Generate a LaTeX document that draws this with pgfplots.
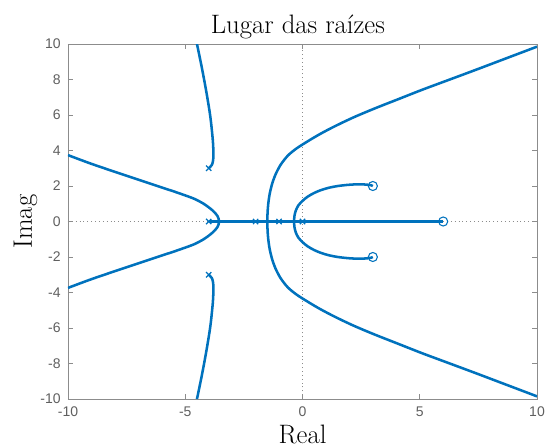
\documentclass[border=0pt]{standalone}
\usepackage{fontspec}
\usepackage{pgfplots}
\pgfplotsset{compat=1.18}
\newfontfamily\tickfont{Liberation Sans}
\definecolor{mblue}{RGB}{0,114,189}
\definecolor{axgray}{RGB}{140,140,140}
\definecolor{lblgray}{RGB}{95,95,95}
\begin{document}
\begin{tikzpicture}
\begin{axis}[
  scale only axis,
  width=351.75pt, height=266.25pt,
  xmin=-10, xmax=10, ymin=-10, ymax=10,
  xtick={-10,-5,0,5,10},
  ytick={-10,-8,-6,-4,-2,0,2,4,6,8,10},
  tick align=inside,
  major tick length=3.75pt,
  axis line style={draw=axgray, line width=0.6pt},
  tick style={draw=axgray, line width=0.6pt},
  ticklabel style={font=\tickfont\fontsize{10.5}{12}\selectfont, text=lblgray},
  xticklabel style={yshift=-2pt},
  yticklabel style={xshift=-2pt},
  /pgf/number format/assume math mode=true,
  title={Lugar das raízes},
  every axis title/.style={font=\fontsize{20}{23}\selectfont, at={(axis description cs:0.49,1.0282)}, anchor=base},
  xlabel={Real},
  every axis x label/.style={font=\fontsize{20}{23}\selectfont, at={(axis description cs:0.5,-0.125)}, anchor=base},
  ylabel={Imag},
  every axis y label/.style={font=\fontsize{20}{23}\selectfont, at={(axis description cs:-0.0768,0.5)}, anchor=base, rotate=90},
  clip=true,
]
% dotted reference lines
\addplot[draw=axgray, line width=0.6pt, dash pattern=on 0.7pt off 2.2pt] coordinates {(-10,0) (10,0)};
\addplot[draw=axgray, line width=0.6pt, dash pattern=on 0.7pt off 2.2pt] coordinates {(0,-10) (0,10)};

% real-axis segment
\addplot[mblue, line width=1.9pt] coordinates {(-4,0) (6,0)};

% branch from upper complex pole
\addplot[mblue, line width=1.9pt, smooth] coordinates {
 (-4,3) (-3.86,3.2) (-3.80,3.6) (-3.82,4.5) (-3.93,5.9) (-4.10,7.3) (-4.29,8.65) (-4.50,10)};
\addplot[mblue, line width=1.9pt, smooth] coordinates {
 (-4,-3) (-3.86,-3.2) (-3.80,-3.6) (-3.82,-4.5) (-3.93,-5.9) (-4.10,-7.3) (-4.29,-8.65) (-4.50,-10)};

% left asymptotic branches
\addplot[mblue, line width=1.9pt, smooth] coordinates {
 (-3.56,0) (-3.58,0.17) (-3.63,0.32) (-3.72,0.47) (-3.85,0.64) (-4.02,0.82) (-4.24,1.02) (-4.6,1.27) (-5.0,1.47) (-5.5,1.70) (-6.1,1.96) (-7.53,2.59) (-8.96,3.23) (-10,3.74)};
\addplot[mblue, line width=1.9pt, smooth] coordinates {
 (-3.56,0) (-3.58,-0.17) (-3.63,-0.32) (-3.72,-0.47) (-3.85,-0.64) (-4.02,-0.82) (-4.24,-1.02) (-4.6,-1.27) (-5.0,-1.47) (-5.5,-1.70) (-6.1,-1.96) (-7.53,-2.59) (-8.96,-3.23) (-10,-3.74)};

% small branch toward complex zeros
\addplot[mblue, line width=1.9pt, smooth] coordinates {
 (-0.36,0) (-0.345,0.3) (-0.29,0.6) (-0.18,0.9) (0.0,1.16) (0.22,1.40) (0.5,1.61) (0.79,1.77) (1.15,1.91) (1.51,2.0) (1.9,2.06) (2.23,2.09) (2.6,2.09) (2.9,2.05) (3,2)};
\addplot[mblue, line width=1.9pt, smooth] coordinates {
 (-0.36,0) (-0.345,-0.3) (-0.29,-0.6) (-0.18,-0.9) (0.0,-1.16) (0.22,-1.40) (0.5,-1.61) (0.79,-1.77) (1.15,-1.91) (1.51,-2.0) (1.9,-2.06) (2.23,-2.09) (2.6,-2.09) (2.9,-2.05) (3,-2)};

% large branch
\addplot[mblue, line width=1.9pt, smooth] coordinates {
 (-1.50,0) (-1.49,0.5) (-1.46,1.0) (-1.40,1.55) (-1.30,2.1) (-1.15,2.65) (-0.93,3.2) (-0.62,3.72) (-0.25,4.12) (0.2,4.5) (0.75,4.93) (1.4,5.38) (2.2,5.88) (3.1,6.38) (4.1,6.9) (5.1,7.42) (6.2,7.96) (7.4,8.55) (8.7,9.2) (10,9.85)};
\addplot[mblue, line width=1.9pt, smooth] coordinates {
 (-1.50,0) (-1.49,-0.5) (-1.46,-1.0) (-1.40,-1.55) (-1.30,-2.1) (-1.15,-2.65) (-0.93,-3.2) (-0.62,-3.72) (-0.25,-4.12) (0.2,-4.5) (0.75,-4.93) (1.4,-5.38) (2.2,-5.88) (3.1,-6.38) (4.1,-6.9) (5.1,-7.42) (6.2,-7.96) (7.4,-8.55) (8.7,-9.2) (10,-9.85)};

% poles
\addplot[only marks, mark=x, mark size=2.8pt, mark options={draw=mblue, line width=0.9pt}] coordinates {
 (-4,3) (-4,-3) (-4,0) (-2,0) (-1,0) (0,0)};
% zeros
\addplot[only marks, mark=o, mark size=3.4pt, mark options={draw=mblue, line width=0.8pt, fill=none}] coordinates {
 (3,2) (3,-2) (6,0)};
\end{axis}
\pgfresetboundingbox
\path[use as bounding box] ([xshift=-51pt,yshift=-36pt]current axis.south west) rectangle ([xshift=11.25pt,yshift=33pt]current axis.north east);
\end{tikzpicture}
\end{document}
